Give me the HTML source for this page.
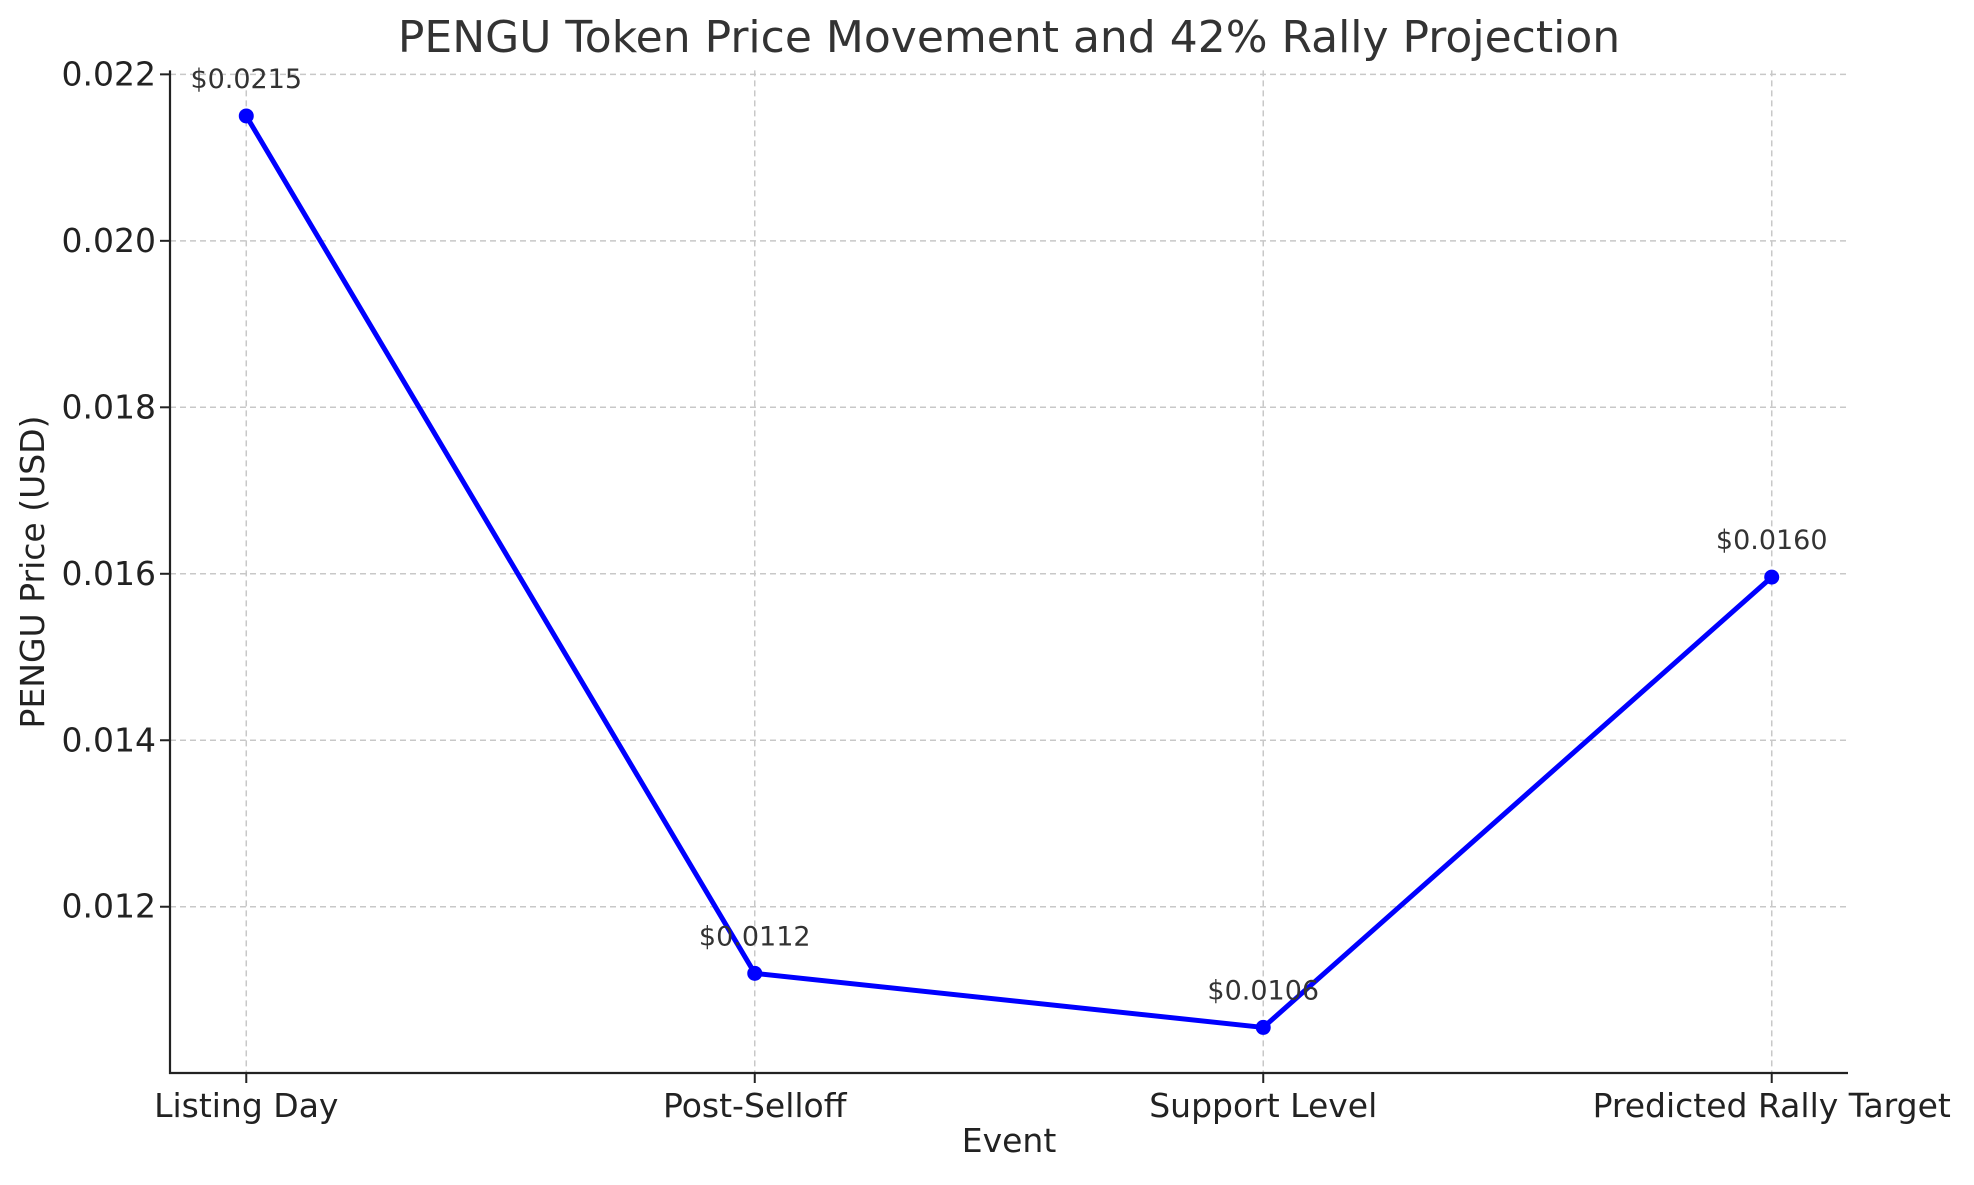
<!DOCTYPE html>
<html><head><meta charset="utf-8"><style>
html,body{margin:0;padding:0;background:#fff;}
svg text{font-family:"DejaVu Sans","Liberation Sans",sans-serif;}
</style></head><body>
<svg id="chart" width="1974" height="1180" viewBox="0 0 1974 1180" xmlns="http://www.w3.org/2000/svg">
<rect width="1974" height="1180" fill="#fff"/>
<text x="1009" y="52" font-size="44" fill="#333" text-anchor="middle">PENGU Token Price Movement and 42% Rally Projection</text>
<g id="grid"></g>
<g id="axes"></g>
<g id="series"></g>
<text x="1009" y="1152" font-size="33" fill="#222" text-anchor="middle">Event</text>
<text transform="translate(44,572) rotate(-90)" font-size="33" fill="#222" text-anchor="middle">PENGU Price (USD)</text>
</svg>
<script>
const categories = ["Listing Day","Post-Selloff","Support Level","Predicted Rally Target"];
const prices = [0.0215, 0.0112, 0.01055, 0.01596];
const priceLabels = ["$0.0215","$0.0112","$0.0106","$0.0160"];
const yTicks = [0.012, 0.014, 0.016, 0.018, 0.020, 0.022];
const yTickLabels = ["0.012","0.014","0.016","0.018","0.020","0.022"];

const NS="http://www.w3.org/2000/svg";
const L=170,R=1848,T=70.4,B=1073;
const xMin=-0.15,xMax=3.15;
const dMin=Math.min(...prices),dMax=Math.max(...prices),rng=dMax-dMin;
const yMin=dMin-0.05*rng,yMax=dMax+0.05*rng;
const xs=i=>L+(i-xMin)/(xMax-xMin)*(R-L);
const ys=v=>B-(v-yMin)/(yMax-yMin)*(B-T);
function mk(tag,attrs,parent){const e=document.createElementNS(NS,tag);for(const k in attrs)e.setAttribute(k,attrs[k]);parent.appendChild(e);return e;}
const grid=document.getElementById('grid'),axes=document.getElementById('axes'),series=document.getElementById('series');

yTicks.forEach((v,i)=>{
  const y=ys(v);
  const g=mk('line',{x1:L,x2:R,y1:y,y2:y,stroke:'#c8c8c8','stroke-width':1.5,'stroke-dasharray':'6,4'},grid);
  
  
  const t=mk('line',{x1:L-10,x2:L,y1:y,y2:y,stroke:'#222','stroke-width':2},axes);
  
  
  const tx=mk('text',{x:L-14,y:y+11,'font-size':33,fill:'#222','text-anchor':'end'},axes);
  tx.textContent=yTickLabels[i];
  
  
});
categories.forEach((c,i)=>{
  const x=xs(i);
  const g=mk('line',{x1:x,x2:x,y1:T,y2:B,stroke:'#c8c8c8','stroke-width':1.5,'stroke-dasharray':'6,4'},grid);
  
  
  const t=mk('line',{x1:x,x2:x,y1:B,y2:B+10,stroke:'#222','stroke-width':2},axes);
  
  
  const tx=mk('text',{x:x,y:B+44,'font-size':33,fill:'#222','text-anchor':'middle'},axes);
  tx.textContent=c;
  
  
});
const sl=mk('line',{x1:L,x2:L,y1:T,y2:B+1,stroke:'#222','stroke-width':2.2},axes);


const sb=mk('line',{x1:L-1,x2:R,y1:B,y2:B,stroke:'#222','stroke-width':2.2},axes);



const pts=prices.map((v,i)=>xs(i)+','+ys(v)).join(' ');
const pl=mk('polyline',{points:pts,fill:'none',stroke:'#0000ff','stroke-width':5,'stroke-linejoin':'round'},series);


prices.forEach((v,i)=>{
  const c=mk('circle',{cx:xs(i),cy:ys(v),r:7.5,fill:'#0000ff'},series);
  
  
  const t=mk('text',{x:xs(i),y:ys(v)-28,'font-size':27,fill:'#333','text-anchor':'middle'},series);
  t.textContent=priceLabels[i];
  
  
});
</script>
</body></html>
